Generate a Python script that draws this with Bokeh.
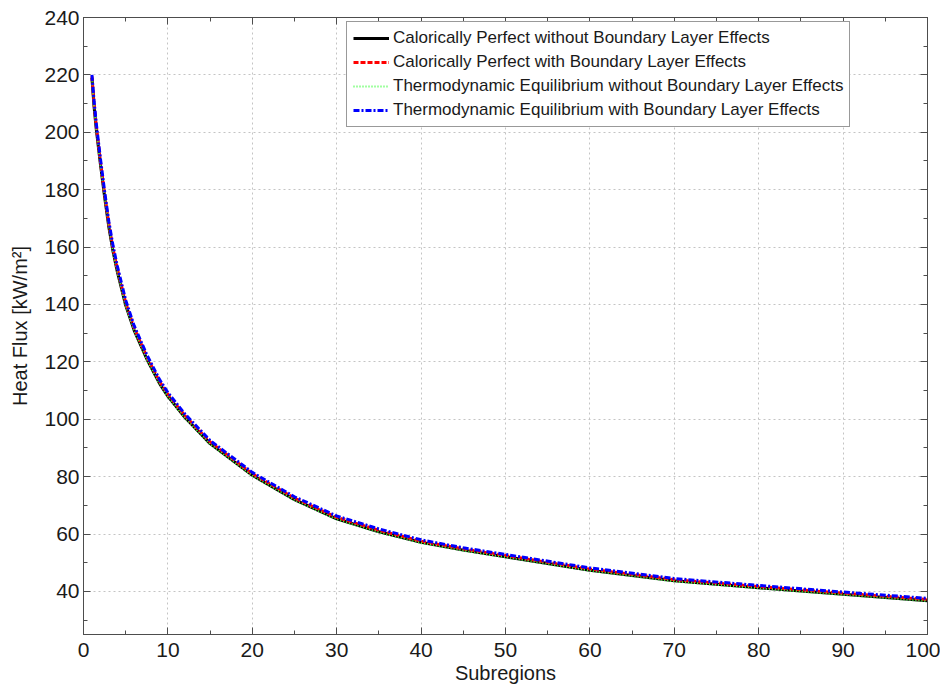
from bokeh.plotting import figure
from bokeh.models import (Range1d, LinearAxis, SingleIntervalTicker, Legend, LegendItem)
from bokeh.embed import file_html
from bokeh.resources import INLINE

# ---- data ----
subregions = [1, 1.25, 1.5, 2, 2.5, 3, 3.5, 4, 5, 6, 7.5, 9, 10, 12, 15, 20, 25, 30,
              35, 40, 45, 50, 60, 70, 80, 90, 100]
cp_without_bl = [219, 209, 201.5, 189, 177.5, 167, 158.5, 151.5, 139.7, 131, 121, 112.5,
                 108, 100.7, 91.5, 80.5, 72, 65.3, 60.8, 57.1, 54.4, 52.1, 47.4, 43.7,
                 41.3, 39.0, 36.8]
cp_with_bl = [219.5, 210, 202.5, 190, 178.5, 168, 159.5, 152.5, 140.6, 131.8, 121.8,
              113.2, 108.7, 101.3, 92.1, 81, 72.5, 65.8, 61.3, 57.5, 54.8, 52.5, 47.8,
              44.1, 41.7, 39.4, 37.2]
te_without_bl = [218.8, 208.8, 201.3, 188.8, 177.3, 166.8, 158.3, 151.3, 139.5, 130.8,
                 120.8, 112.3, 107.8, 100.5, 91.3, 80.3, 71.8, 65.1, 60.6, 56.9, 54.2,
                 51.9, 47.2, 43.5, 41.1, 38.8, 36.6]
te_with_bl = [220, 211, 203.5, 191, 179.5, 169, 160.5, 153.5, 141.5, 132.6, 122.5, 113.9,
              109.3, 101.9, 92.6, 81.5, 73, 66.3, 61.8, 58, 55.2, 52.9, 48.2, 44.5, 42.1,
              39.8, 37.6]

labels = ["Calorically Perfect without Boundary Layer Effects",
          "Calorically Perfect with Boundary Layer Effects",
          "Thermodynamic Equilibrium without Boundary Layer Effects",
          "Thermodynamic Equilibrium with Boundary Layer Effects"]

x_ticks_interval = 10
y_ticks_interval = 20

FONT = "Liberation Sans"
AX = "#4d4d4d"
TXT = "#1a1a1a"

p = figure(width=940, height=688, output_backend="svg", toolbar_location=None,
           x_range=Range1d(0, 100), y_range=Range1d(25, 240),
           min_border_left=83, min_border_right=13, min_border_top=17,
           min_border_bottom=54, x_axis_label="Subregions",
           y_axis_label="Heat Flux [kW/m²]")
p.outline_line_color = AX
p.outline_line_width = 1

xt = SingleIntervalTicker(interval=x_ticks_interval, num_minor_ticks=2)
yt = SingleIntervalTicker(interval=y_ticks_interval, num_minor_ticks=2)
p.xaxis.ticker = xt
p.yaxis.ticker = yt
p.xgrid.ticker = xt
p.ygrid.ticker = yt

for ax in (p.xaxis[0], p.yaxis[0]):
    ax.axis_line_color = AX
    ax.major_tick_line_color = AX
    ax.minor_tick_line_color = AX
    ax.major_tick_in = 7
    ax.major_tick_out = 0
    ax.minor_tick_in = 4
    ax.minor_tick_out = 0
    ax.major_label_text_font = FONT
    ax.major_label_text_font_size = "21px"
    ax.major_label_text_color = TXT
    ax.axis_label_text_font = FONT
    ax.axis_label_text_font_size = "20px"
    ax.axis_label_text_font_style = "normal"
    ax.axis_label_text_color = TXT
p.xaxis.major_label_standoff = 8
p.yaxis.major_label_standoff = 4
p.xaxis.axis_label_standoff = 2
p.yaxis.axis_label_standoff = 10

for loc, tk in (("above", xt), ("right", yt)):
    a = LinearAxis(ticker=tk, axis_line_color=AX, major_tick_line_color=AX,
                   minor_tick_line_color=AX, major_tick_in=7, major_tick_out=0,
                   minor_tick_in=4, minor_tick_out=0,
                   major_label_text_font_size="0px", major_label_standoff=0)
    p.add_layout(a, loc)

for g in (p.xgrid[0], p.ygrid[0]):
    g.grid_line_color = "#c4c4c4"
    g.grid_line_dash = "2 3"
    g.grid_line_width = 1

r1 = p.line(subregions, cp_without_bl, line_color="black", line_width=3)
r2 = p.line(subregions, cp_with_bl, line_color="#ff0000", line_width=3,
            line_dash="5 2")
r3 = p.line(subregions, te_without_bl, line_color="#44ff44", line_width=2,
            line_dash="1 2")
r4 = p.line(subregions, te_with_bl, line_color="#0000ff", line_width=3,
            line_dash="6 2 2 2")

legend = Legend(items=[LegendItem(label=labels[0], renderers=[r1]),
                       LegendItem(label=labels[1], renderers=[r2]),
                       LegendItem(label=labels[2], renderers=[r3]),
                       LegendItem(label=labels[3], renderers=[r4])],
                location=(263, 507))
legend.label_text_font = FONT
legend.label_text_font_size = "17px"
legend.label_text_color = TXT
legend.glyph_width = 36
legend.glyph_height = 20
legend.label_height = 20
legend.label_standoff = 4
legend.spacing = 4
legend.padding = 6
legend.margin = 0
legend.border_line_color = "#333333"
legend.border_line_width = 1
legend.background_fill_alpha = 1
p.add_layout(legend, "center")

open("out.html", "w").write(file_html(p, INLINE))
